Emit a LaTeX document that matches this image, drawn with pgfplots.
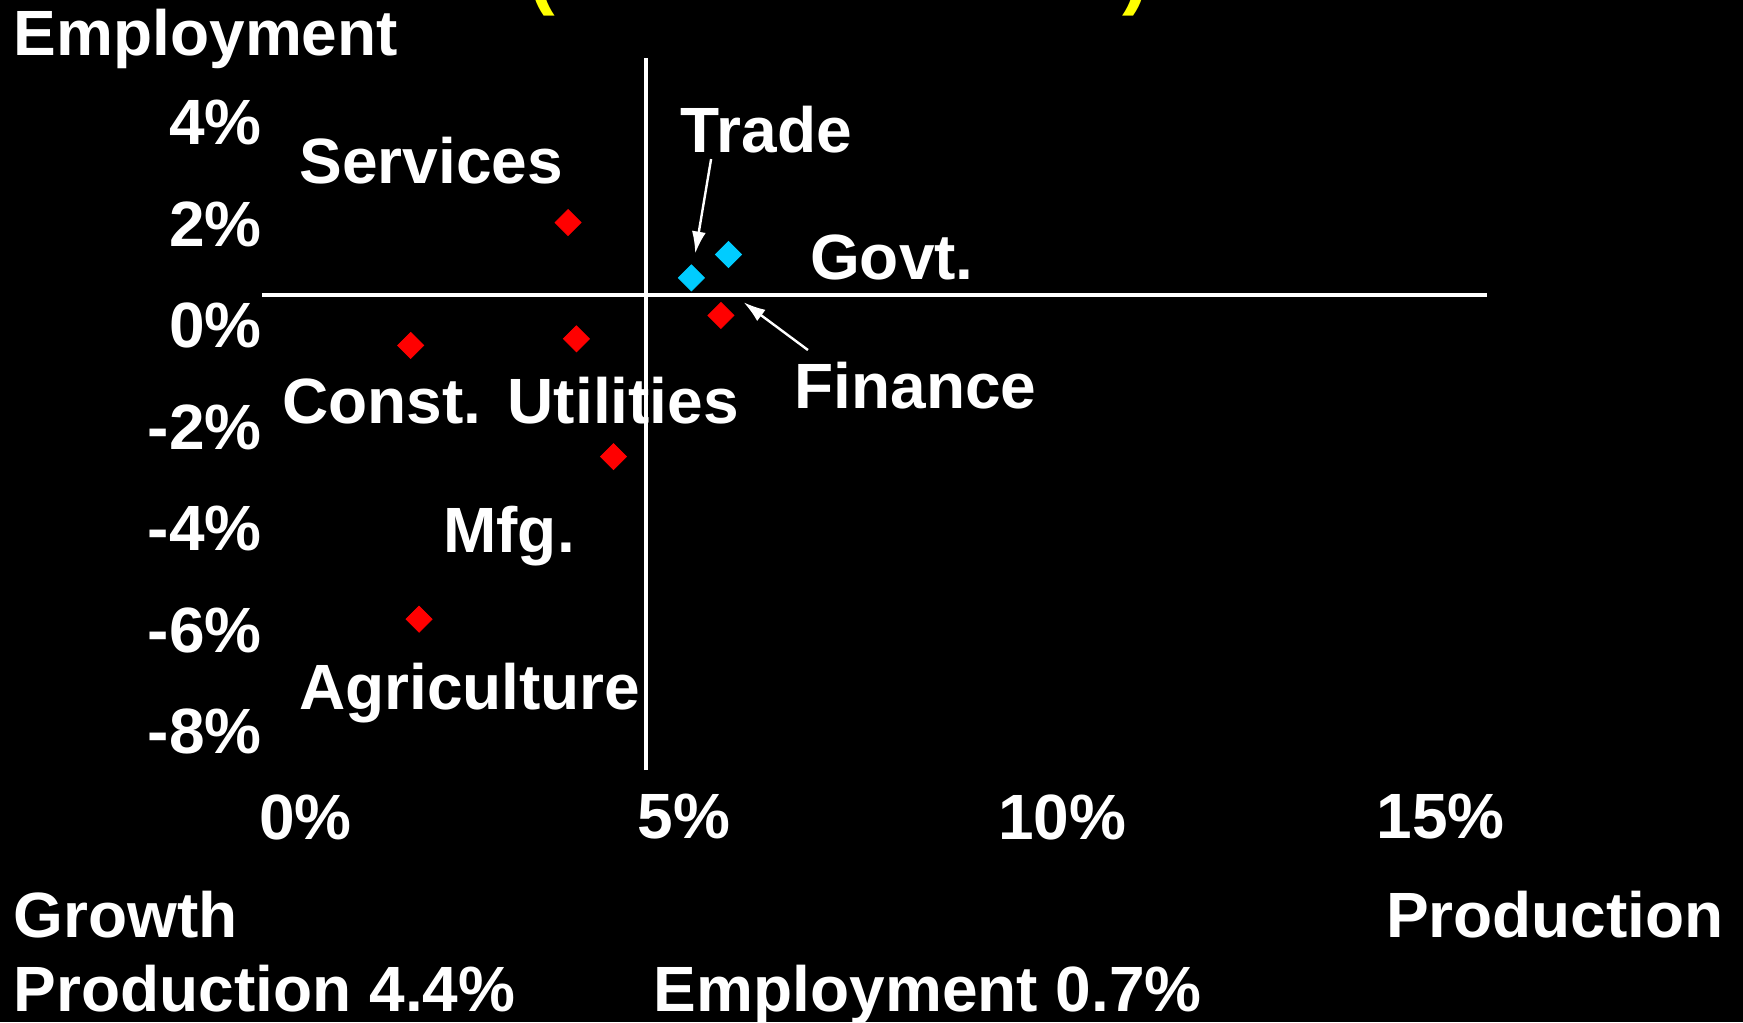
\documentclass[border=0pt]{standalone}
\usepackage{pgfplots}
\pgfplotsset{compat=1.18}
\usepackage{fontspec}
\setmainfont{Liberation Sans}
\usetikzlibrary{arrows.meta}
\definecolor{cyanpt}{HTML}{00CCFF}
\definecolor{titleyellow}{HTML}{FFFF00}
\newcommand{\lbl}{\bfseries\fontsize{32}{38}\selectfont}

\begin{document}
\begin{tikzpicture}
\useasboundingbox (-131.1pt,-126pt) rectangle (740.4pt,385pt);
\clip (-131.1pt,-126pt) rectangle (740.4pt,385pt);
\fill[black] (-131.1pt,-126pt) rectangle (740.4pt,385pt);
\begin{axis}[
  scale only axis, width=612.2pt, height=356pt,
  xmin=-0.573, xmax=15.61, ymin=-8.75, ymax=5.27,
  axis line style={draw=none}, major tick length=0pt,
  xtick={0,5,10,15}, xticklabels={0\%,5\%,10\%,15\%},
  ytick={-8,-6,-4,-2,0,2,4},
  yticklabels={-8\%,-6\%,-4\%,-2\%,0\%,2\%,4\%},
  tick label style={white, font=\lbl, inner sep=0pt},
  xticklabel style={yshift=-12pt},
  clip=false,
]
  % crossing lines at the averages
  \addplot[white, line width=2pt] coordinates {(-0.573,0.61) (15.61,0.61)};
  \addplot[white, line width=2pt] coordinates {(4.5,-8.75) (4.5,5.27)};

  % sectors
  \addplot[only marks, mark=square*, mark size=4.6pt,
    mark options={rotate=45, fill=red, draw=red}]
    coordinates {(3.47,2.03) (5.49,0.20) (1.39,-0.39) (3.58,-0.26)
                 (4.07,-2.58) (1.50,-5.78)};
  \addplot[only marks, mark=square*, mark size=4.6pt,
    mark options={rotate=45, fill=cyanpt, draw=cyanpt}]
    coordinates {(5.10,0.94) (5.59,1.40)};

  \begin{scope}[every node/.style={white, font=\lbl, inner sep=0pt}]
    \node[anchor=base] at (axis cs:1.66,2.80) {Services};
    \node[anchor=base] at (axis cs:6.09,3.41) {Trade};
    \node[anchor=base] at (axis cs:7.75,0.90) {Govt.};
    \node[anchor=base] at (axis cs:8.06,-1.64) {Finance};
    \node[anchor=base] at (axis cs:1.01,-1.93) {Const.};
    \node[anchor=base] at (axis cs:4.20,-1.93) {Utilities};
    \node[anchor=base] at (axis cs:2.69,-4.46) {Mfg.};
    \node[anchor=base] at (axis cs:2.17,-7.55) {Agriculture};

    \node[anchor=base west] at (axis cs:-3.86,5.32) {Employment};
    \node[anchor=base west] at (axis cs:-3.86,-12.04) {Growth};
    \node[anchor=base east] at (axis cs:18.75,-12.04) {Production};
    \node[anchor=base west] at (axis cs:-3.86,-13.50) {Production 4.4\%};
    \node[anchor=base west] at (axis cs:4.60,-13.50) {Employment 0.7\%};
  \end{scope}

  \draw[white, line width=1.2pt, -{Latex[length=11pt,width=7pt]}]
    (axis cs:5.36,3.28) -- (axis cs:5.15,1.42);
  \draw[white, line width=1.2pt, -{Latex[length=11pt,width=7pt]}]
    (axis cs:6.64,-0.48) -- (axis cs:5.79,0.46);

  % title brackets, cut off by the frame
  \node[titleyellow, font=\bfseries\fontsize{40}{48}\selectfont,
    inner sep=0pt, anchor=south] at (axis cs:3.12,6.08) {(};
  \node[titleyellow, font=\bfseries\fontsize{40}{48}\selectfont,
    inner sep=0pt, anchor=south] at (axis cs:10.97,6.08) {)};
\end{axis}
\end{tikzpicture}
\end{document}
